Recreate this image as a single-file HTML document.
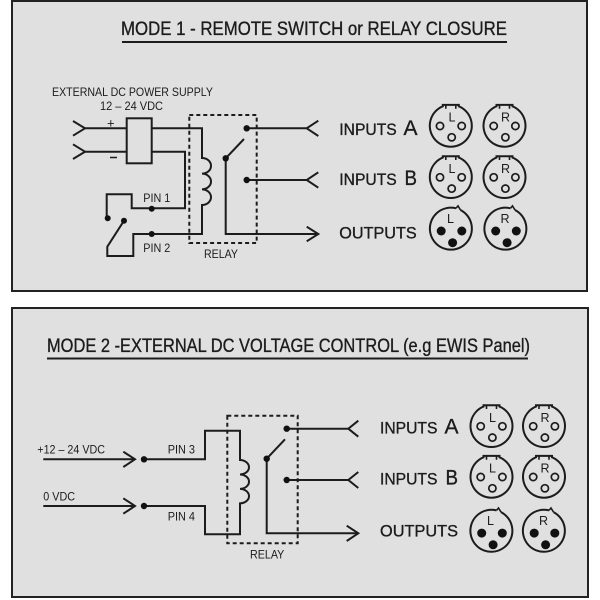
<!DOCTYPE html>
<html>
<head>
<meta charset="utf-8">
<style>
  html,body{margin:0;padding:0;background:#fff;}
  svg{display:block;}
  text{font-family:"Liberation Sans",Arial,sans-serif;fill:#1c1c1c;}
  .h{stroke:#1c1c1c;stroke-width:0.35;}
</style>
</head>
<body>
<svg width="600" height="600" viewBox="0 0 600 600" xmlns="http://www.w3.org/2000/svg">
  <defs>
    <g id="fem">
      <path d="M-8,-19.4 A21,21 0 1 0 8,-19.4 L8,-20.8 L-8,-20.8 Z" fill="none" stroke="#1c1c1c" stroke-width="2"/>
      <path d="M-5,-20.8 V-17 M5,-20.8 V-17" stroke="#1c1c1c" stroke-width="1.6"/>
      <circle cx="-10.8" cy="0.3" r="3.6" fill="none" stroke="#1c1c1c" stroke-width="1.7"/>
      <circle cx="10.9" cy="0.3" r="3.6" fill="none" stroke="#1c1c1c" stroke-width="1.7"/>
      <circle cx="0.9" cy="11.6" r="3.6" fill="none" stroke="#1c1c1c" stroke-width="1.7"/>
    </g>
    <g id="male">
      <path d="M9.5,-18.7 A21,21 0 1 1 5,-20.4" fill="none" stroke="#1c1c1c" stroke-width="2"/>
      <path d="M5,-20.4 L7,-22.8 L9.5,-18.7" fill="none" stroke="#1c1c1c" stroke-width="1.6"/>
      <circle cx="-9.8" cy="2.3" r="4.5" fill="#111"/>
      <circle cx="10.8" cy="2.3" r="4.5" fill="#111"/>
      <circle cx="1.6" cy="14" r="4.5" fill="#111"/>
    </g>
  </defs>

  <!-- Panels -->
  <rect x="12" y="1" width="575" height="290" fill="#e0e0e0" stroke="#222" stroke-width="2"/>
  <rect x="12" y="308" width="576" height="289" fill="#e0e0e0" stroke="#222" stroke-width="2"/>

  <!-- Titles -->
  <text class="h" x="121" y="35" font-size="19" textLength="386" lengthAdjust="spacingAndGlyphs">MODE 1 - REMOTE SWITCH or RELAY CLOSURE</text>
  <line x1="122" y1="42" x2="507" y2="42" stroke="#1c1c1c" stroke-width="2"/>
  <text class="h" x="47" y="352" font-size="19.5" textLength="483" lengthAdjust="spacingAndGlyphs">MODE 2 -EXTERNAL DC VOLTAGE CONTROL (e.g EWIS Panel)</text>
  <line x1="47" y1="358.5" x2="528" y2="358.5" stroke="#1c1c1c" stroke-width="2"/>

  <!-- ============ PANEL 1 CIRCUIT ============ -->
  <text x="52" y="96" font-size="12" textLength="161" lengthAdjust="spacingAndGlyphs">EXTERNAL DC POWER SUPPLY</text>
  <text x="100" y="110" font-size="12" textLength="63" lengthAdjust="spacingAndGlyphs">12 – 24 VDC</text>
  <text x="107" y="127.5" font-size="13">+</text>
  <line x1="110" y1="157.5" x2="117" y2="157.5" stroke="#1c1c1c" stroke-width="1.5"/>

  <g fill="none" stroke="#1c1c1c" stroke-width="2">
    <polyline points="73,121 85,128.3 73,135.7"/>
    <line x1="85" y1="128.3" x2="126.7" y2="128.3"/>
    <polyline points="73,144.3 85,151.7 73,159"/>
    <line x1="85" y1="151.7" x2="126.7" y2="151.7"/>
    <rect x="126.7" y="118.3" width="25" height="45"/>
    <path d="M151.7,128.3 H202 V158 a9,7.83 0 0 1 0,15.67 a9,7.83 0 0 1 0,15.67 a9,7.83 0 0 1 0,15.67 V234 H133.3 V256 H107.3 V246.7 L124,220.7"/>
    <path d="M151.7,151.7 H185 V208.3 H131.7 V194.3 H106.7 V218.3"/>
    <rect x="189.3" y="115" width="67.4" height="128" stroke-dasharray="4,3"/>
    <line x1="225.7" y1="158.3" x2="244" y2="139"/>
    <path d="M225.7,158.3 V234 H318.3"/>
    <polyline points="306.7,226.7 318.3,234 306.7,241.3"/>
    <line x1="246.7" y1="128.3" x2="306.7" y2="128.3"/>
    <polyline points="318.3,120.7 306.7,128.3 318.3,136"/>
    <line x1="246.7" y1="180" x2="306.7" y2="180"/>
    <polyline points="318.3,172.3 306.7,180 318.3,187.7"/>
  </g>
  <g fill="#111">
    <circle cx="151.7" cy="208.8" r="3"/>
    <circle cx="151.7" cy="234" r="3"/>
    <circle cx="107.7" cy="218.3" r="3"/>
    <circle cx="124" cy="220.7" r="3"/>
    <circle cx="246.7" cy="128.3" r="3.2"/>
    <circle cx="246.7" cy="180" r="3.2"/>
    <circle cx="225.7" cy="158.3" r="3.2"/>
  </g>
  <text x="143.3" y="202" font-size="12" textLength="27" lengthAdjust="spacingAndGlyphs">PIN 1</text>
  <text x="143.3" y="252" font-size="12" textLength="27" lengthAdjust="spacingAndGlyphs">PIN 2</text>
  <text x="204" y="258" font-size="12" textLength="34" lengthAdjust="spacingAndGlyphs">RELAY</text>

  <!-- panel 1 right labels -->
  <text class="h" x="339.3" y="135" font-size="17" textLength="57.4" lengthAdjust="spacingAndGlyphs">INPUTS</text>
  <text class="h" x="403.5" y="135" font-size="21" textLength="14" lengthAdjust="spacingAndGlyphs">A</text>
  <text class="h" x="339.3" y="185" font-size="17" textLength="57.4" lengthAdjust="spacingAndGlyphs">INPUTS</text>
  <text class="h" x="404.5" y="185" font-size="21" textLength="12.5" lengthAdjust="spacingAndGlyphs">B</text>
  <text class="h" x="339.3" y="238.3" font-size="17" textLength="77.4" lengthAdjust="spacingAndGlyphs">OUTPUTS</text>

  <!-- panel 1 connectors -->
  <use href="#fem" x="450.8" y="125.7"/>
  <use href="#fem" x="504.5" y="125.7"/>
  <use href="#fem" x="450.8" y="177"/>
  <use href="#fem" x="504.5" y="177"/>
  <use href="#male" x="451" y="228.7"/>
  <use href="#male" x="505.5" y="228.7"/>
  <g font-size="12.5" text-anchor="middle">
    <text x="452" y="121.7">L</text>
    <text x="505.5" y="121.7">R</text>
    <text x="452" y="173">L</text>
    <text x="505.5" y="173">R</text>
    <text x="450.5" y="223">L</text>
    <text x="505" y="223">R</text>
  </g>

  <!-- ============ PANEL 2 CIRCUIT ============ -->
  <text x="37.3" y="453.3" font-size="12" textLength="67.7" lengthAdjust="spacingAndGlyphs">+12 – 24 VDC</text>
  <text x="43.3" y="500.7" font-size="12" textLength="31.7" lengthAdjust="spacingAndGlyphs">0 VDC</text>
  <text x="167.7" y="453.3" font-size="12" textLength="27.3" lengthAdjust="spacingAndGlyphs">PIN 3</text>
  <text x="167.7" y="520.7" font-size="12" textLength="27.3" lengthAdjust="spacingAndGlyphs">PIN 4</text>
  <text x="250" y="558.3" font-size="12" textLength="34.3" lengthAdjust="spacingAndGlyphs">RELAY</text>

  <g fill="none" stroke="#1c1c1c" stroke-width="2">
    <line x1="43.3" y1="459.3" x2="135" y2="459.3"/>
    <polyline points="123.3,451.7 135,459.3 123.3,467"/>
    <line x1="43.3" y1="506" x2="135" y2="506"/>
    <polyline points="123.3,498.3 135,506 123.3,513.7"/>
    <path d="M144,459.3 H205 V430.7 H240 V460 a9,7.22 0 0 1 0,14.44 a9,7.22 0 0 1 0,14.44 a9,7.22 0 0 1 0,14.44 V534.3 H205 V506 H144"/>
    <rect x="227.3" y="415.7" width="70.4" height="127.6" stroke-dasharray="4,3"/>
    <line x1="266.7" y1="458.7" x2="285" y2="439.3"/>
    <path d="M266.7,458.7 V533.3 H358.3"/>
    <polyline points="346.7,525.7 358.3,533.3 346.7,541"/>
    <line x1="286.7" y1="428.7" x2="348.3" y2="428.7"/>
    <polyline points="358.3,420.7 348.3,428.7 358.3,436.7"/>
    <line x1="286.7" y1="480" x2="348.3" y2="480"/>
    <polyline points="358.3,472 348.3,480 358.3,488"/>
  </g>
  <g fill="#111">
    <circle cx="144" cy="459.3" r="3.2"/>
    <circle cx="144" cy="506" r="3.2"/>
    <circle cx="286.7" cy="428.7" r="3.2"/>
    <circle cx="286.7" cy="480" r="3.2"/>
    <circle cx="266.7" cy="458.7" r="3.2"/>
  </g>

  <!-- panel 2 right labels -->
  <text class="h" x="380" y="433.3" font-size="17" textLength="57.4" lengthAdjust="spacingAndGlyphs">INPUTS</text>
  <text class="h" x="444.5" y="433.3" font-size="21" textLength="14" lengthAdjust="spacingAndGlyphs">A</text>
  <text class="h" x="380" y="484.3" font-size="17" textLength="57.4" lengthAdjust="spacingAndGlyphs">INPUTS</text>
  <text class="h" x="445.5" y="484.3" font-size="21" textLength="12.5" lengthAdjust="spacingAndGlyphs">B</text>
  <text class="h" x="380" y="536.7" font-size="17" textLength="78" lengthAdjust="spacingAndGlyphs">OUTPUTS</text>

  <!-- panel 2 connectors -->
  <use href="#fem" x="491.5" y="426"/>
  <use href="#fem" x="544" y="426"/>
  <use href="#fem" x="491.5" y="476.7"/>
  <use href="#fem" x="544" y="476.7"/>
  <use href="#male" x="491.5" y="530.8"/>
  <use href="#male" x="544" y="530.8"/>
  <g font-size="12.5" text-anchor="middle">
    <text x="492.5" y="422">L</text>
    <text x="545" y="422">R</text>
    <text x="492.5" y="472.7">L</text>
    <text x="545" y="472.7">R</text>
    <text x="490.5" y="525">L</text>
    <text x="543.5" y="525">R</text>
  </g>
</svg>
</body>
</html>
